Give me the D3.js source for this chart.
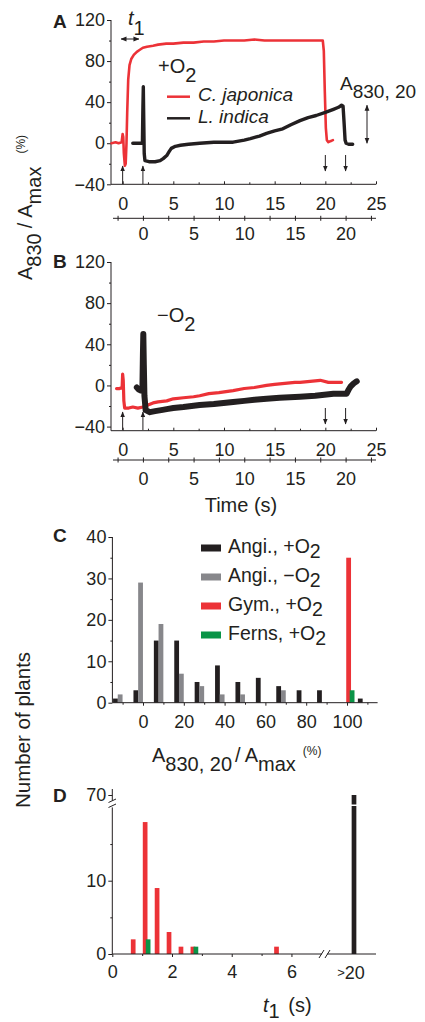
<!DOCTYPE html>
<html>
<head>
<meta charset="utf-8">
<script src="https://cdn.jsdelivr.net/npm/d3@7"></script>
<style>
body { margin: 0; background: #fff; }
svg { display: block; }
</style>
</head>
<body>
<script>
const W = 425, H = 1022;
const FONT = '"Liberation Sans", Arial, sans-serif';
const RED = "#ec3237", BLACK = "#231f20", GRAY = "#87878b", GREEN = "#0a9447";

// A: +O2 traces, [time (s), A830/Amax (%)]
const aJaponica = [[-1.1,0],[-0.7,1],[-0.4,0],[-0.1,1],[0,9],[0.06,6],[0.12,-10],[0.22,-22],[0.3,-20],
  [0.38,0],[0.45,30],[0.55,62],[0.68,76],[0.85,82],[1.1,86],[1.4,89],[1.7,91],[2,93],[2.4,94],[3,95],
  [3.5,96],[4.3,97],[5,97],[6,98],[7,98],[8,99],[9,99],[10,100],[11,100],[12,100],[13,101],[14,100],
  [15,100],[16,100],[17,100],[18,100],[19,100],[19.75,100],[19.85,90],[19.95,50],[20.05,15],[20.15,3],
  [20.3,1],[20.5,2],[20.75,3]];
const aIndica = [[-1,0],[-0.6,0],[-0.2,0],[-0.05,0],[0,35],[0.04,55],[0.08,25],[0.13,-10],[0.2,-17],
  [0.6,-18],[1,-18],[1.2,-18],[1.7,-17],[2,-15],[2.35,-12],[2.6,-8],[2.8,-5],[3.2,-3],[3.7,-2],[4.5,-1],
  [5.6,0],[7,1],[8.9,1],[10,3],[10.6,4.5],[11.5,7],[12.2,9.5],[13,12],[13.8,14],[14.6,18],[15.5,22],
  [16.3,25],[17.1,27],[18,30],[18.8,33],[19.3,35],[19.6,37],[19.75,36],[19.85,20],[19.95,3],[20.05,0],
  [20.3,-1],[20.7,-1]];

// B: -O2 traces
const bJaponica = [[-0.6,-3],[-0.3,-3],[-0.05,-2],[0,11],[0.06,5],[0.12,-15],[0.2,-22],[0.6,-22],[1,-21],
  [1.5,-22],[2,-21],[2.5,-19],[3,-17],[3.5,-16],[4.35,-15],[5,-13],[6,-12],[7,-11],[7.6,-10],[8.5,-8],
  [9.5,-7],[10.9,-5],[12,-3],[13,-2],[14.2,0],[15,1],[16,2],[17,3],[17.5,3],[18.5,4],[19.5,5],[20.3,3],
  [21,3],[21.6,3]];
const bIndica = [[-0.6,-2],[-0.4,-4],[-0.2,-5],[-0.05,-4],[0,30],[0.04,50],[0.09,20],[0.15,-10],[0.27,-24],
  [0.7,-26],[1.2,-25],[1.8,-24],[2.35,-23],[3,-22],[4,-21],[5.6,-19],[7,-18],[8.9,-16],[10,-15],[11,-14],
  [12.2,-13],[13.5,-12],[15.5,-11],[17,-10],[18.8,-8],[19.5,-8],[20.1,-8],[20.3,-4],[20.5,-1],[20.8,2],
  [21.1,4]];

// C: histogram of A830,20/Amax (%)
const cBins      = [-10, 0, 10, 20, 30, 40, 50, 60, 70, 80, 90, 100, 110];
const cAngiPlus  = [1, 3, 15, 15, 5, 9, 5, 6, 4, 3, 3, 0, 1];
const cAngiMinus = [2, 29, 19, 7, 4, 2, 2, 0, 3, 0, 0, 0, 0];
const cGymPlus   = [0, 0, 0, 0, 0, 0, 0, 0, 0, 0, 0, 35, 0];
const cFernPlus  = [0, 0, 0, 0, 0, 0, 0, 0, 0, 0, 0, 3, 0];
const cLegend    = ["Angi., +O", "Angi., \u2212O", "Gym., +O", "Ferns, +O"];

// D: histogram of t1 (s)
const dGymT  = [0.7, 1.1, 1.5, 1.9, 2.3, 2.7, 5.5];
const dGymN  = [2, 18, 9, 3, 1, 1, 1];
const dFernT = [1.2, 2.8];
const dFernN = [2, 1];
const dSlowCat = ">20";
const dSlowN = 70;

const svg = d3.select("body").append("svg").attr("width", W).attr("height", H)
  .attr("font-family", FONT).attr("fill", BLACK);
svg.append("rect").attr("width", W).attr("height", H).attr("fill", "#fff");

svg.append("defs").append("marker").attr("id", "ah")
  .attr("viewBox", "0 0 10 10").attr("refX", 9).attr("refY", 5)
  .attr("markerWidth", 6).attr("markerHeight", 6).attr("orient", "auto-start-reverse")
  .append("path").attr("d", "M0,1L10,5L0,9z").attr("fill", BLACK);

function rich(g, x, y, parts, size) {
  const t = g.append("text").attr("x", x).attr("y", y).attr("font-size", size).attr("fill", BLACK);
  let prev = 0;
  parts.forEach(p => {
    const sh = p.shift || 0;
    t.append("tspan").attr("dy", sh - prev).attr("dx", p.dx || null)
      .attr("font-size", p.size || null)
      .attr("font-style", p.italic ? "italic" : null)
      .text(p.text);
    prev = sh;
  });
  return t;
}

function seg(x1, y1, x2, y2, color, w) {
  return svg.append("line").attr("x1", x1).attr("x2", x2).attr("y1", y1).attr("y2", y2)
    .attr("stroke", color || BLACK).attr("stroke-width", w || 1);
}
const hline = (x1, x2, y) => seg(x1, y, x2, y);
const vline = (x, y1, y2) => seg(x, y1, x, y2);

function arrow(x1, y1, x2, y2, both) {
  const l = seg(x1, y1, x2, y2).attr("marker-end", "url(#ah)");
  if (both) l.attr("marker-start", "url(#ah)");
}
function fixAxis(g, size) {
  g.select(".domain").remove();
  g.attr("font-size", size).attr("font-family", FONT);
  g.selectAll(".tick line").attr("stroke", BLACK);
  g.selectAll(".tick text").attr("fill", BLACK);
}

const fmt = d3.format("d");

// ---------- panels A and B ----------
const xR = d3.scaleLinear().domain([-1.05, 25]).range([112, 376]);   // C. japonica time
const xK = d3.scaleLinear().domain([-3.05, 23]).range([112, 376]);   // L. indica time

function tracePanel(yDom, yTop, yBot, axis2Y, lab1P, lab2P, japonica, indica, wR, wK) {
  const y = d3.scaleLinear().domain(yDom).range([yBot, yTop]);
  const line = (xs) => d3.line().x(d => xs(d[0])).y(d => y(d[1]));

  const ya = svg.append("g").attr("transform", "translate(111,0)")
    .call(d3.axisLeft(y).tickValues([-40, 0, 40, 80, 120]).tickSize(4).tickPadding(2).tickFormat(fmt));
  fixAxis(ya, 18);
  const ym = svg.append("g").attr("transform", "translate(111,0)")
    .call(d3.axisLeft(y).tickValues([-20, 20, 60, 100]).tickSize(2).tickFormat(""));
  fixAxis(ym, 18);
  vline(111, yTop, yBot);

  // first time axis (C. japonica)
  const xa = svg.append("g").attr("transform", `translate(0,${yBot})`)
    .call(d3.axisBottom(xR).tickValues([0, 5, 10, 15, 20, 25]).tickSize(-3).tickPadding(lab1P).tickFormat(fmt));
  fixAxis(xa, 18);
  const xm = svg.append("g").attr("transform", `translate(0,${yBot})`)
    .call(d3.axisBottom(xR).tickValues([2.5, 7.5, 12.5, 17.5, 22.5]).tickSize(-2).tickFormat(""));
  fixAxis(xm, 18);
  hline(111, 376, yBot);

  // second time axis (L. indica)
  const xb = svg.append("g").attr("transform", `translate(0,${axis2Y - 2.5})`)
    .call(d3.axisBottom(xK).tickValues([0, 5, 10, 15, 20]).tickSize(5).tickPadding(lab2P).tickFormat(fmt));
  fixAxis(xb, 18);
  const xbm = svg.append("g").attr("transform", `translate(0,${axis2Y - 2.5})`)
    .call(d3.axisBottom(xK).tickValues([-2.5, 2.5, 7.5, 12.5, 17.5, 22.5]).tickSize(5).tickFormat(""));
  fixAxis(xbm, 18);
  hline(113, 376, axis2Y);

  svg.append("path").datum(japonica).attr("d", line(xR))
    .attr("fill", "none").attr("stroke", RED).attr("stroke-width", wR)
    .attr("stroke-linejoin", "round").attr("stroke-linecap", "round");
  svg.append("path").datum(indica).attr("d", line(xK))
    .attr("fill", "none").attr("stroke", BLACK).attr("stroke-width", wK)
    .attr("stroke-linejoin", "round").attr("stroke-linecap", "round");
  return y;
}

const yA = tracePanel([-40, 120], 20, 184.3, 218.3, 12.7, 6.9, aJaponica, aIndica, 2.6, 3.4);
const yB = tracePanel([-44, 120], 262, 430.7, 460, 13, 9.7, bJaponica, bIndica, 3.2, 6);

// arrows A
arrow(xR(0), 184, xR(0), 166);
arrow(xK(0), 184, xK(0), 166);
arrow(xR(20), 155, xR(20), 171);
arrow(xK(20), 155, xK(20), 171);
arrow(367, yA(0), 367, yA(37), true);
arrow(xR(-0.15), 39, xR(1.6), 39, true);
// arrows B
arrow(xR(0), 430, xR(0), 412);
arrow(xK(0), 430, xK(0), 412);
arrow(xR(20), 408, xR(20), 424);
arrow(xK(20), 408, xK(20), 424);

// labels A/B
rich(svg, 128, 25, [{ text: "t", italic: true }, { text: "1", shift: 10 }], 20);
rich(svg, 158, 73, [{ text: "+O" }, { text: "2", shift: 9 }], 20);
rich(svg, 340, 90, [{ text: "A" }, { text: "830, 20", shift: 8 }], 19);
rich(svg, 157, 322, [{ text: "\u2212O" }, { text: "2", shift: 9 }], 20);

seg(167, 96.7, 190, 96.7, RED, 2.5);
seg(167, 118.3, 190, 118.3, BLACK, 2.5);
svg.append("text").attr("x", 198).attr("y", 101).attr("font-size", 19).attr("font-style", "italic").text("C. japonica");
svg.append("text").attr("x", 198).attr("y", 123).attr("font-size", 19).attr("font-style", "italic").text("L. indica");

const yLab = svg.append("g").attr("transform", "translate(32,280) rotate(-90)");
rich(yLab, 0, 0, [{ text: "A" }, { text: "830", shift: 9 }, { text: "/", dx: 5 }, { text: "A", dx: 5 },
  { text: "max", shift: 9 }, { text: "(%)", shift: -7, size: 12, dx: 13 }], 20);

svg.append("text").attr("x", 241).attr("y", 512).attr("text-anchor", "middle")
  .attr("font-size", 20).text("Time (s)");

// ---------- panel C ----------
const xC = d3.scaleLinear().domain([-15, 115]).range([112.4, 377.6]);
const yC = d3.scaleLinear().domain([0, 40]).range([702.7, 537]);
const cSeries = [
  { vals: cAngiPlus, color: BLACK, off: -3.5 },
  { vals: cAngiMinus, color: GRAY, off: -1.2 },
  { vals: cGymPlus, color: RED, off: 0.8 },
  { vals: cFernPlus, color: GREEN, off: 2.5 }
];
const bwC = xC(2.35) - xC(0);
cSeries.forEach(s => {
  svg.append("g").selectAll("rect")
    .data(cBins.map((b, i) => ({ b, v: s.vals[i] })).filter(d => d.v > 0))
    .join("rect")
    .attr("x", d => xC(d.b + s.off) - bwC / 2)
    .attr("width", bwC)
    .attr("y", d => yC(d.v))
    .attr("height", d => yC(0) - yC(d.v))
    .attr("fill", s.color);
});
const cya = svg.append("g").attr("transform", "translate(112.4,0)")
  .call(d3.axisLeft(yC).tickValues([0, 10, 20, 30, 40]).tickSize(4).tickPadding(2).tickFormat(fmt));
fixAxis(cya, 18);
const cym = svg.append("g").attr("transform", "translate(112.4,0)")
  .call(d3.axisLeft(yC).tickValues([5, 15, 25, 35]).tickSize(2).tickFormat(""));
fixAxis(cym, 18);
vline(112.4, 537, 702.7);
const cxa = svg.append("g").attr("transform", "translate(0,702.7)")
  .call(d3.axisBottom(xC).tickValues([0, 20, 40, 60, 80, 100]).tickSize(3).tickPadding(9.7).tickFormat(fmt));
fixAxis(cxa, 18);
const cxm = svg.append("g").attr("transform", "translate(0,702.7)")
  .call(d3.axisBottom(xC).tickValues([-10, 10, 30, 50, 70, 90, 110]).tickSize(2).tickFormat(""));
fixAxis(cxm, 18);
hline(112.4, 377.6, 702.7);

const legColors = [BLACK, GRAY, RED, GREEN];
cLegend.forEach((t, i) => {
  const cy = 548 + i * 29;
  svg.append("rect").attr("x", 201).attr("y", cy - 3.5).attr("width", 20).attr("height", 7).attr("fill", legColors[i]);
  rich(svg, 228, cy + 5, [{ text: t }, { text: "2", shift: 5 }], 19.5);
});

rich(svg, 152, 762, [{ text: "A" }, { text: "830, 20", shift: 9 }, { text: "/", dx: 3 }, { text: "A", dx: 4 },
  { text: "max", shift: 9 }, { text: "(%)", shift: -7, size: 12, dx: 7 }], 20);

svg.append("g").attr("transform", "translate(30,808) rotate(-90)")
  .append("text").attr("font-size", 20.5).text("Number of plants");

// ---------- panel D ----------
const xD = d3.scaleLinear().domain([0, 7]).range([112.3, 321.3]);
const xDs = d3.scaleBand().domain([dSlowCat]).range([338, 370]);
const yD = d3.scaleLinear().domain([0, 20]).range([954, 807.4]);
const yDup = d3.scaleLinear().domain([68, 72]).range([803, 787]);
const bwD = 4.7;

svg.append("g").selectAll("rect").data(dGymT.map((t, i) => ({ t, n: dGymN[i] }))).join("rect")
  .attr("x", d => xD(d.t) - bwD / 2).attr("width", bwD)
  .attr("y", d => yD(d.n)).attr("height", d => yD(0) - yD(d.n)).attr("fill", RED);
svg.append("g").selectAll("rect").data(dFernT.map((t, i) => ({ t, n: dFernN[i] }))).join("rect")
  .attr("x", d => xD(d.t) - bwD / 2).attr("width", bwD)
  .attr("y", d => yD(d.n)).attr("height", d => yD(0) - yD(d.n)).attr("fill", GREEN);
const sx = xDs(dSlowCat) + xDs.bandwidth() / 2;
svg.append("rect").attr("x", sx - bwD / 2).attr("width", bwD)
  .attr("y", yDup(dSlowN)).attr("height", yD(0) - yDup(dSlowN)).attr("fill", BLACK);
svg.append("rect").attr("x", sx - bwD / 2 - 1).attr("width", bwD + 2)
  .attr("y", 804.5).attr("height", 1.5).attr("fill", "#fff");

const dya = svg.append("g").attr("transform", "translate(112.3,0)")
  .call(d3.axisLeft(yD).tickValues([0, 10]).tickSize(4).tickPadding(2).tickFormat(fmt));
fixAxis(dya, 18);
const dym = svg.append("g").attr("transform", "translate(112.3,0)")
  .call(d3.axisLeft(yD).tickValues([5, 15]).tickSize(2).tickFormat(""));
fixAxis(dym, 18);
const dyu = svg.append("g").attr("transform", "translate(112.3,0)")
  .call(d3.axisLeft(yDup).tickValues([dSlowN]).tickSize(4).tickPadding(2).tickFormat(fmt));
fixAxis(dyu, 18);
vline(112.3, 807.4, 954);
vline(112.3, 789, 800.5);
// y-axis break
seg(108.5, 802.5, 116, 799);
seg(108.5, 807.5, 116, 804);

const dxa = svg.append("g").attr("transform", "translate(0,954)")
  .call(d3.axisBottom(xD).tickValues([0, 2, 4, 6]).tickSize(3).tickPadding(8.7).tickFormat(fmt));
fixAxis(dxa, 18);
const dxm = svg.append("g").attr("transform", "translate(0,954)")
  .call(d3.axisBottom(xD).tickValues([1, 3, 5]).tickSize(2).tickFormat(""));
fixAxis(dxm, 18);
hline(112.3, 376, 954);
// x-axis break
svg.append("rect").attr("x", 322).attr("y", 950).attr("width", 5).attr("height", 8).attr("fill", "#fff");
seg(319, 958, 324, 950);
seg(325, 958, 330, 950);
rich(svg, sx - 3, 978.5, [{ text: ">", size: 13, shift: -2 }, { text: "20" }], 18)
  .attr("text-anchor", "middle");

rich(svg, 263, 1012, [{ text: "t", italic: true }, { text: "1", shift: 6 }, { text: " (s)", dx: 3 }], 20);

// panel letters
[["A", 28], ["B", 268], ["C", 542], ["D", 802]].forEach(([l, y]) => {
  svg.append("text").attr("x", 53).attr("y", y).attr("font-size", 19).attr("font-weight", "bold").text(l);
});
</script>
</body>
</html>
